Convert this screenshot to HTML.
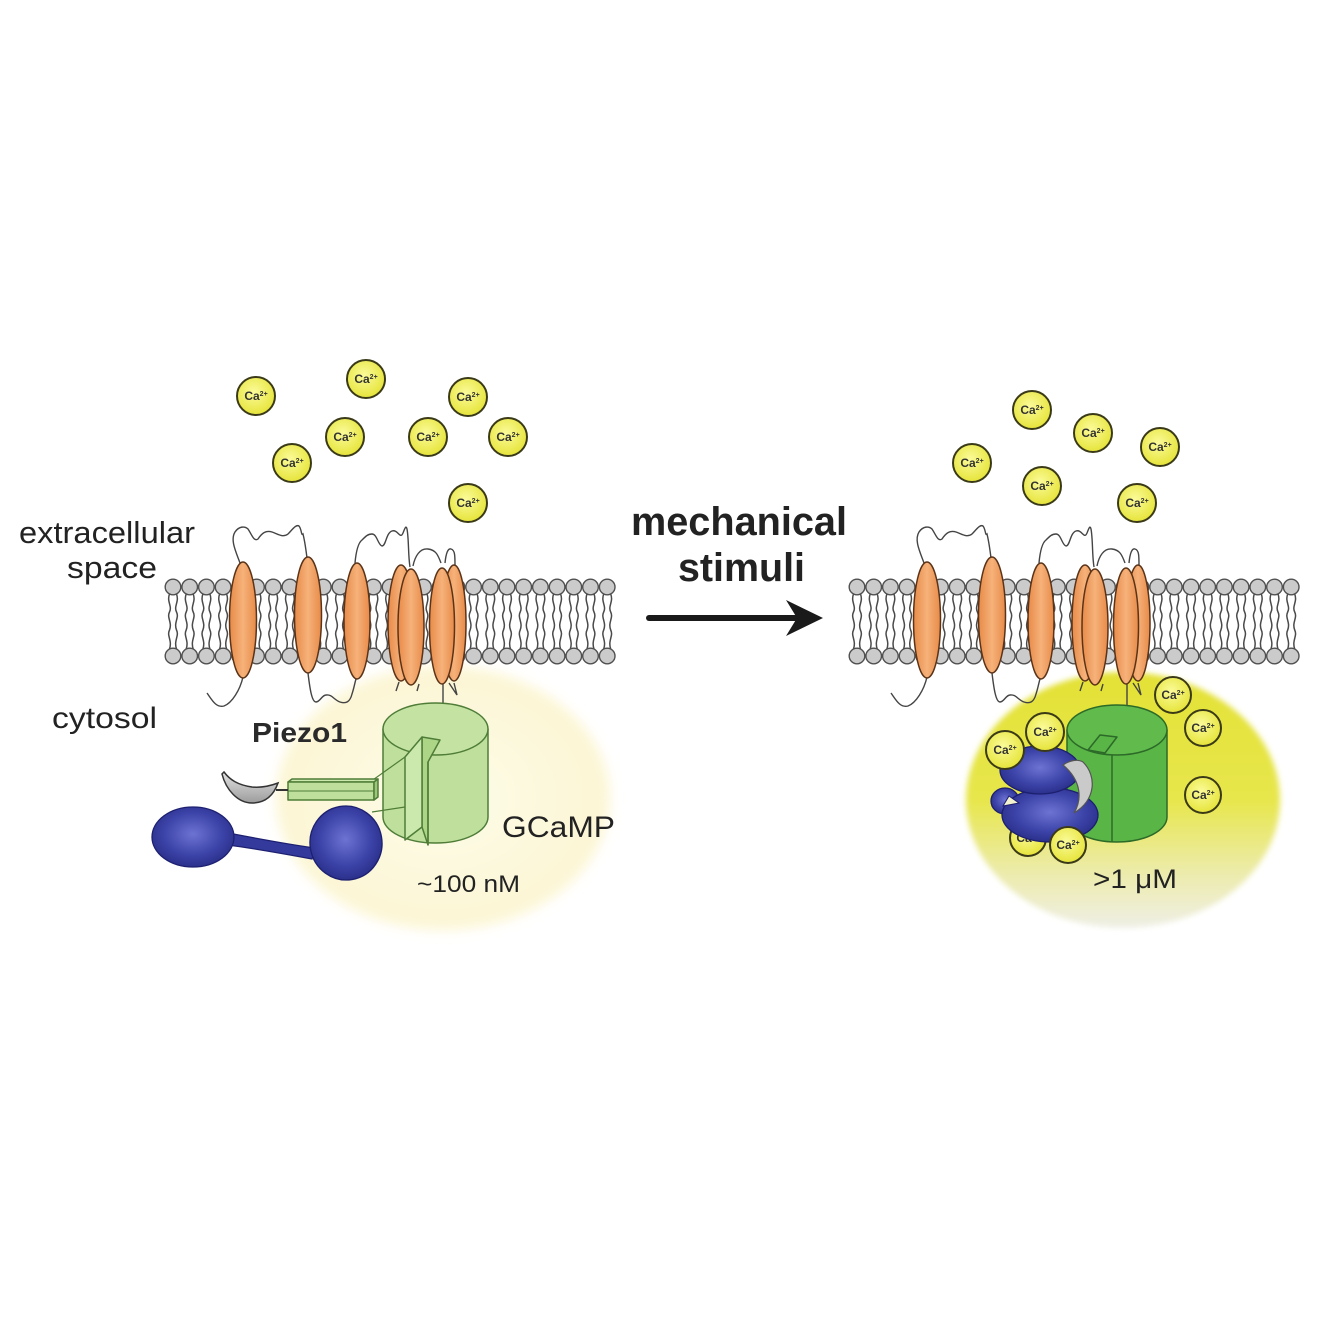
<!DOCTYPE html>
<html><head><meta charset="utf-8"><style>html,body{margin:0;padding:0;background:#fff}svg{display:block}</style></head>
<body>
<svg width="1330" height="1328" viewBox="0 0 1330 1328" xmlns="http://www.w3.org/2000/svg" font-family="'Liberation Sans', Arial, sans-serif">
<defs>
<filter id="blur6" x="-20%" y="-20%" width="140%" height="140%"><feGaussianBlur stdDeviation="6"/></filter>
<filter id="blur3" x="-20%" y="-20%" width="140%" height="140%"><feGaussianBlur stdDeviation="3"/></filter>
<linearGradient id="prot" x1="0" y1="0" x2="1" y2="0"><stop offset="0" stop-color="#e88a48"/><stop offset="0.5" stop-color="#f6b27a"/><stop offset="1" stop-color="#e88a48"/></linearGradient>
<radialGradient id="yg" cx="0.45" cy="0.4" r="0.6"><stop offset="0" stop-color="#fbfb9a"/><stop offset="1" stop-color="#e6e43a"/></radialGradient>
<linearGradient id="glowR" x1="0" y1="0" x2="0" y2="1"><stop offset="0" stop-color="#e3e135"/><stop offset="0.5" stop-color="#e7e64c"/><stop offset="0.78" stop-color="#ecebaa"/><stop offset="1" stop-color="#efefe6"/></linearGradient>
<radialGradient id="glowL" cx="0.5" cy="0.5" r="0.5"><stop offset="0" stop-color="#fefcea"/><stop offset="0.8" stop-color="#fcf7d8"/><stop offset="1" stop-color="#fcf6d4"/></radialGradient>
<radialGradient id="blue" cx="0.5" cy="0.45" r="0.6"><stop offset="0" stop-color="#6c73d2"/><stop offset="0.6" stop-color="#3c43a8"/><stop offset="1" stop-color="#262b82"/></radialGradient>
<linearGradient id="gray" x1="0" y1="0" x2="0" y2="1"><stop offset="0" stop-color="#e2e2e2"/><stop offset="1" stop-color="#9c9c9c"/></linearGradient>
<g id="lip">
<path d="M-3.5,594 c-3,8 3,12 0,18 c-3,6 3,10 0,18 c-3,6 3,10 0,19 M3.5,594 c3,8 -3,12 0,18 c3,6 -3,10 0,18 c3,6 -3,10 0,19" fill="none" stroke="#4a4a4a" stroke-width="1.5"/>
<circle cy="587" r="7.8" fill="#cbcbcb" stroke="#505050" stroke-width="1.4"/>
<circle cy="656" r="7.8" fill="#cbcbcb" stroke="#505050" stroke-width="1.4"/>
</g>
<g id="mem">
<use href="#lip" x="173"/><use href="#lip" x="189.7"/><use href="#lip" x="206.4"/><use href="#lip" x="223.1"/><use href="#lip" x="239.8"/><use href="#lip" x="256.5"/><use href="#lip" x="273.2"/><use href="#lip" x="289.9"/><use href="#lip" x="306.6"/><use href="#lip" x="323.3"/><use href="#lip" x="340"/><use href="#lip" x="356.7"/><use href="#lip" x="373.4"/><use href="#lip" x="390.1"/><use href="#lip" x="406.8"/><use href="#lip" x="423.5"/><use href="#lip" x="440.2"/><use href="#lip" x="456.9"/><use href="#lip" x="473.6"/><use href="#lip" x="490.3"/><use href="#lip" x="507"/><use href="#lip" x="523.7"/><use href="#lip" x="540.4"/><use href="#lip" x="557.1"/><use href="#lip" x="573.8"/><use href="#lip" x="590.5"/><use href="#lip" x="607.2"/>
</g>
<g id="piezo">
<g fill="none" stroke="#444" stroke-width="1.4">
<path d="M240 563 C236 552,230 540,235 532 C239 526,245 526,248 529 C252 535,254 542,258 539 C262 533,266 530,272 532 C278 534,283 538,288 534 C292 530,296 524,299 526 C302 530,301 536,303 534 C305 542,306 550,307 558"/>
<path d="M355 563 C356 552,358 543,362 540 C366 536,368 534,372 534 C377 534,378 545,382 546 C386 546,386 533,392 531 C398 529,400 540,403 533 C405 528,406 525,407 529 C409 540,408 555,410 567"/>
<path d="M413 566 C415 556,420 548,428 549 C436 550,438 555,441 563 M445 563 C446 553,448 548,451 549 C455 550,455 556,455 565"/>
<path d="M243 677 C240 690,232 703,224 706 C216 708,212 700,207 693"/>
<path d="M308 673 C310 690,312 702,316 702 C320 702,322 695,326 695 C332 694,334 700,340 702 C346 704,350 702,352 694 C354 688,355 682,356 679"/>
<path d="M399 682 L396 691 M419 684 L417 691 M449 683 L457 695 L454 683"/>
<path d="M443 683 L443 706"/>
</g>
<g stroke="#5a3318" stroke-width="1.5" fill="url(#prot)">
<ellipse cx="243" cy="620" rx="13.5" ry="58"/>
<ellipse cx="308" cy="615" rx="13.5" ry="58"/>
<ellipse cx="357" cy="621" rx="13" ry="58"/>
<ellipse cx="401" cy="623" rx="13" ry="58"/>
<ellipse cx="411" cy="627" rx="13" ry="58"/>
<ellipse cx="454" cy="623" rx="12" ry="58"/>
<ellipse cx="442" cy="626" rx="12.5" ry="58"/>
</g>
</g>
</defs>

<!-- glows -->
<ellipse cx="443" cy="798" rx="167" ry="132" fill="url(#glowL)" filter="url(#blur6)"/>
<ellipse cx="1123" cy="800" rx="157" ry="128" fill="url(#glowR)" filter="url(#blur3)"/>

<!-- membranes -->
<use href="#mem"/>
<use href="#mem" transform="translate(684,0)"/>
<use href="#piezo"/>
<use href="#piezo" transform="translate(684,0)"/>

<!-- labels -->
<g fill="#222">
<text x="19" y="543" font-size="31" textLength="176" lengthAdjust="spacingAndGlyphs">extracellular</text>
<text x="67" y="578" font-size="31" textLength="90" lengthAdjust="spacingAndGlyphs">space</text>
<text x="52" y="728" font-size="30" textLength="105" lengthAdjust="spacingAndGlyphs">cytosol</text>
<text x="252" y="742" font-size="28" font-weight="bold" fill="#2a2a2a" textLength="95" lengthAdjust="spacingAndGlyphs">Piezo1</text>
<text x="502" y="837" font-size="30" textLength="113" lengthAdjust="spacingAndGlyphs">GCaMP</text>
<text x="417" y="892" font-size="24" textLength="103" lengthAdjust="spacingAndGlyphs">~100 nM</text>
<text x="631" y="535" font-size="40" font-weight="bold" textLength="216" lengthAdjust="spacingAndGlyphs">mechanical</text>
<text x="678" y="581" font-size="40" font-weight="bold" textLength="127" lengthAdjust="spacingAndGlyphs">stimuli</text>
<text x="1093" y="888" font-size="27" textLength="84" lengthAdjust="spacingAndGlyphs">&gt;1 μM</text>
</g>

<!-- arrow -->
<line x1="649" y1="618" x2="800" y2="618" stroke="#1a1a1a" stroke-width="6" stroke-linecap="round"/>
<polygon points="823,618 786,600 797,618 786,636" fill="#1a1a1a"/>

<!-- left GCaMP -->
<g stroke="#4f7d38" stroke-width="1.5" stroke-linejoin="round">
<path d="M383 729 L383 817 A52.5 26 0 0 0 488 817 L488 729 Z" fill="#bfe09c"/>
<ellipse cx="435.5" cy="729" rx="52.5" ry="26" fill="#c4e3a3"/>
<polygon points="422,737 440,740 428,762 428,845 422,827" fill="#acd585"/>
<polygon points="405,757 422,737 422,827 405,840" fill="#cbe8ad"/>
<line x1="428" y1="762" x2="428" y2="845"/>
<line x1="370" y1="782" x2="405" y2="757" stroke-width="1.2"/>
<line x1="372" y1="812" x2="405" y2="807" stroke-width="1.2"/>
<polygon points="288,782 292,779 378,779 374,782" fill="#cbe8ad"/>
<rect x="288" y="782" width="86" height="18" fill="#bfe09c"/>
<line x1="288" y1="791" x2="374" y2="791" stroke-width="1"/>
<polygon points="374,782 378,779 378,797 374,800" fill="#9ec67a"/>
</g>
<line x1="276" y1="790" x2="288" y2="790" stroke="#333" stroke-width="2"/>
<path d="M222 774 C226 790,238 803,252 803 C264 803,273 797,278 783 C270 786,262 788,252 787 C238 785,230 780,224 772 Z" fill="url(#gray)" stroke="#333" stroke-width="1.5"/>
<!-- dumbbell -->
<path d="M228 833 C255 838,285 844,315 848 L312 859 C285 854,258 849,228 845 Z" fill="#343a9c" stroke="#1d2070" stroke-width="1.2"/>
<g fill="url(#blue)" stroke="#1d2070" stroke-width="1.3">
<ellipse cx="193" cy="837" rx="41" ry="30"/>
<ellipse cx="346" cy="843" rx="36" ry="37" transform="rotate(-10 346 843)"/>
</g>

<!-- right GCaMP -->
<g stroke="#2c6a28" stroke-width="1.5" stroke-linejoin="round">
<path d="M1067 730 L1067 817 A50 25 0 0 0 1167 817 L1167 730 Z" fill="#5ab547"/>
<ellipse cx="1117" cy="730" rx="50" ry="25" fill="#60ba4c"/>
<line x1="1112" y1="755" x2="1112" y2="842"/>
<polygon points="1088,750 1100,735 1117,737 1105,753" fill="#5ab547"/>
</g>

<g transform="translate(1028,838)"><circle r="18" fill="url(#yg)" stroke="#3a3a18" stroke-width="2"/><text text-anchor="middle" y="4" font-size="12" font-weight="bold" fill="#333">Ca<tspan font-size="7" dy="-4">2+</tspan></text></g>

<!-- right calmodulin -->
<g fill="url(#blue)" stroke="#1d2070" stroke-width="1.3">
<ellipse cx="1005" cy="801" rx="14" ry="13"/>
<ellipse cx="1050" cy="815" rx="48" ry="27"/>
<ellipse cx="1040" cy="770" rx="40" ry="24"/>
</g>
<polygon points="1003,806 1009,796 1019,803" fill="#f3f2cf" stroke="#1d2070" stroke-width="1"/>
<path d="M1063 765 C1070 760,1078 759,1083 762 C1097 776,1096 800,1074 813 C1082 800,1082 781,1063 765 Z" fill="#cacaca" stroke="#555" stroke-width="1.2"/>

<!-- Ca ions -->
<g font-size="12" font-weight="bold" fill="#333" text-anchor="middle">
<g transform="translate(256,396)"><circle r="19" fill="url(#yg)" stroke="#3a3a18" stroke-width="2"/><text y="4">Ca<tspan font-size="7" dy="-4">2+</tspan></text></g>
<g transform="translate(366,379)"><circle r="19" fill="url(#yg)" stroke="#3a3a18" stroke-width="2"/><text y="4">Ca<tspan font-size="7" dy="-4">2+</tspan></text></g>
<g transform="translate(468,397)"><circle r="19" fill="url(#yg)" stroke="#3a3a18" stroke-width="2"/><text y="4">Ca<tspan font-size="7" dy="-4">2+</tspan></text></g>
<g transform="translate(345,437)"><circle r="19" fill="url(#yg)" stroke="#3a3a18" stroke-width="2"/><text y="4">Ca<tspan font-size="7" dy="-4">2+</tspan></text></g>
<g transform="translate(428,437)"><circle r="19" fill="url(#yg)" stroke="#3a3a18" stroke-width="2"/><text y="4">Ca<tspan font-size="7" dy="-4">2+</tspan></text></g>
<g transform="translate(508,437)"><circle r="19" fill="url(#yg)" stroke="#3a3a18" stroke-width="2"/><text y="4">Ca<tspan font-size="7" dy="-4">2+</tspan></text></g>
<g transform="translate(292,463)"><circle r="19" fill="url(#yg)" stroke="#3a3a18" stroke-width="2"/><text y="4">Ca<tspan font-size="7" dy="-4">2+</tspan></text></g>
<g transform="translate(468,503)"><circle r="19" fill="url(#yg)" stroke="#3a3a18" stroke-width="2"/><text y="4">Ca<tspan font-size="7" dy="-4">2+</tspan></text></g>

<g transform="translate(1032,410)"><circle r="19" fill="url(#yg)" stroke="#3a3a18" stroke-width="2"/><text y="4">Ca<tspan font-size="7" dy="-4">2+</tspan></text></g>
<g transform="translate(1093,433)"><circle r="19" fill="url(#yg)" stroke="#3a3a18" stroke-width="2"/><text y="4">Ca<tspan font-size="7" dy="-4">2+</tspan></text></g>
<g transform="translate(1160,447)"><circle r="19" fill="url(#yg)" stroke="#3a3a18" stroke-width="2"/><text y="4">Ca<tspan font-size="7" dy="-4">2+</tspan></text></g>
<g transform="translate(972,463)"><circle r="19" fill="url(#yg)" stroke="#3a3a18" stroke-width="2"/><text y="4">Ca<tspan font-size="7" dy="-4">2+</tspan></text></g>
<g transform="translate(1042,486)"><circle r="19" fill="url(#yg)" stroke="#3a3a18" stroke-width="2"/><text y="4">Ca<tspan font-size="7" dy="-4">2+</tspan></text></g>
<g transform="translate(1137,503)"><circle r="19" fill="url(#yg)" stroke="#3a3a18" stroke-width="2"/><text y="4">Ca<tspan font-size="7" dy="-4">2+</tspan></text></g>

<g transform="translate(1173,695)"><circle r="18" fill="url(#yg)" stroke="#3a3a18" stroke-width="2"/><text y="4">Ca<tspan font-size="7" dy="-4">2+</tspan></text></g>
<g transform="translate(1203,728)"><circle r="18" fill="url(#yg)" stroke="#3a3a18" stroke-width="2"/><text y="4">Ca<tspan font-size="7" dy="-4">2+</tspan></text></g>
<g transform="translate(1203,795)"><circle r="18" fill="url(#yg)" stroke="#3a3a18" stroke-width="2"/><text y="4">Ca<tspan font-size="7" dy="-4">2+</tspan></text></g>
<g transform="translate(1005,750)"><circle r="19" fill="url(#yg)" stroke="#3a3a18" stroke-width="2"/><text y="4">Ca<tspan font-size="7" dy="-4">2+</tspan></text></g>
<g transform="translate(1045,732)"><circle r="19" fill="url(#yg)" stroke="#3a3a18" stroke-width="2"/><text y="4">Ca<tspan font-size="7" dy="-4">2+</tspan></text></g>
<g transform="translate(1068,845)"><circle r="18" fill="url(#yg)" stroke="#3a3a18" stroke-width="2"/><text y="4">Ca<tspan font-size="7" dy="-4">2+</tspan></text></g>
</g>
</svg>
</body></html>
